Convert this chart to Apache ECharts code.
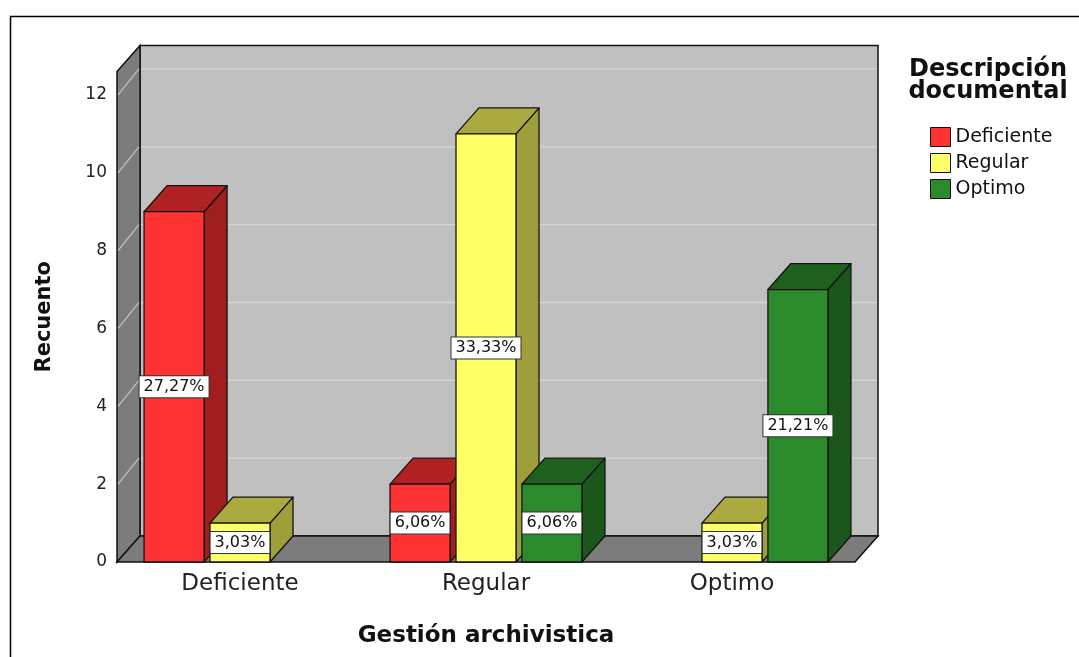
<!DOCTYPE html>
<html>
<head>
<meta charset="utf-8">
<script src="https://cdn.jsdelivr.net/npm/echarts@6/dist/echarts.min.js"></script>
<style>
  html, body { margin: 0; padding: 0; background: #ffffff; }
  #chart { width: 1079px; height: 657px; }
</style>
</head>
<body>
<div id="chart"></div>
<script>
// Categories on the x axis (Gestión archivistica)
const categories = ['Deficiente', 'Regular', 'Optimo'];
// Series (Descripción documental)
const seriesNames = ['Deficiente', 'Regular', 'Optimo'];
// Counts per category for each series
const deficienteCounts = [9, 2, 0];
const regularCounts = [1, 11, 1];
const optimoCounts = [0, 2, 7];
// Value axis ticks
const yTicks = [0, 2, 4, 6, 8, 10, 12];

const allCounts = [deficienteCounts, regularCounts, optimoCounts];
const total = allCounts.reduce((s, arr) => s + arr.reduce((a, b) => a + b, 0), 0);

// Face colours: front, top, side
const palette = [
  { front: '#ff3333', top: '#b02222', side: '#a01e1e' },
  { front: '#ffff66', top: '#aaaa40', side: '#9e9e3a' },
  { front: '#2b8a2b', top: '#1f601f', side: '#1b561b' }
];

// Depth offset of the 3D box
const DX = 23, DY = -26;
const FONT = 'DejaVu Sans';

function pctText(v) {
  return (v / total * 100).toFixed(2).replace('.', ',') + '%';
}

function barGeom(api, cat, val, sIdx) {
  const band = api.size([1, 0])[0];
  const w = band * 0.244, step = band * 0.268;
  const top = api.coord([cat, val]);
  const base = api.coord([cat, 0]);
  const xl = top[0] + (sIdx - 1) * step - w / 2;
  return { xl: xl, xr: xl + w, yt: top[1], yb: base[1] };
}

function renderWalls(params, api) {
  const cs = params.coordSys;
  const x0 = cs.x, x1 = cs.x + cs.width;
  const yTop = cs.y, yBase = cs.y + cs.height;
  const kids = [];
  // back wall
  kids.push({
    type: 'polygon',
    shape: { points: [[x0 + DX, yTop + DY], [x1 + DX, yTop + DY], [x1 + DX, yBase + DY], [x0 + DX, yBase + DY]] },
    style: { fill: '#c0c0c0', stroke: '#111', lineWidth: 1.5 }
  });
  // side wall
  kids.push({
    type: 'polygon',
    shape: { points: [[x0, yTop], [x0 + DX, yTop + DY], [x0 + DX, yBase + DY], [x0, yBase]] },
    style: { fill: '#7c7c7c', stroke: '#111', lineWidth: 1.5 }
  });
  // grid lines on the back and side walls
  yTicks.forEach(function (v) {
    if (v === 0) return;
    const y = api.coord([0, v])[1];
    kids.push({
      type: 'line',
      shape: { x1: x0 + DX + 1, y1: y + DY, x2: x1 + DX - 1, y2: y + DY },
      style: { stroke: '#d6d6d6', lineWidth: 1.3 }
    });
    kids.push({
      type: 'line',
      shape: { x1: x0 + 1, y1: y, x2: x0 + DX - 1, y2: y + DY },
      style: { stroke: '#c4c4c4', lineWidth: 1.2 }
    });
  });
  // floor
  kids.push({
    type: 'polygon',
    shape: { points: [[x0, yBase], [x0 + DX, yBase + DY], [x1 + DX, yBase + DY], [x1, yBase]] },
    style: { fill: '#7c7c7c', stroke: '#111', lineWidth: 1.5 }
  });
  return { type: 'group', children: kids };
}

function makeBarRenderer(sIdx) {
  const col = palette[sIdx];
  return function (params, api) {
    const cat = api.value(0), val = api.value(1);
    if (!val) return null;
    const g = barGeom(api, cat, val, sIdx);
    const edge = { stroke: '#141414', lineWidth: 1.3, lineJoin: 'round' };
    return {
      type: 'group',
      children: [
        {
          type: 'polygon',
          shape: { points: [[g.xr, g.yt], [g.xr + DX, g.yt + DY], [g.xr + DX, g.yb + DY], [g.xr, g.yb]] },
          style: Object.assign({ fill: col.side }, edge)
        },
        {
          type: 'polygon',
          shape: { points: [[g.xl, g.yt], [g.xl + DX, g.yt + DY], [g.xr + DX, g.yt + DY], [g.xr, g.yt]] },
          style: Object.assign({ fill: col.top }, edge)
        },
        {
          type: 'rect',
          shape: { x: g.xl, y: g.yt, width: g.xr - g.xl, height: g.yb - g.yt },
          style: Object.assign({ fill: col.front }, edge)
        }
      ]
    };
  };
}

function renderLabel(params, api) {
  const cat = api.value(0), val = api.value(1), sIdx = api.value(2);
  if (!val) return null;
  const g = barGeom(api, cat, val, sIdx);
  return {
    type: 'text',
    x: (g.xl + g.xr) / 2,
    y: (g.yt + g.yb) / 2,
    style: {
      text: pctText(val),
      fill: '#111',
      fontSize: 16,
      fontFamily: FONT,
      align: 'center',
      verticalAlign: 'middle',
      backgroundColor: '#ffffff',
      borderColor: '#333',
      borderWidth: 1,
      padding: [3, 4, 2, 4]
    }
  };
}

const barSeries = seriesNames.map(function (name, sIdx) {
  return {
    name: name,
    type: 'custom',
    z: 2,
    renderItem: makeBarRenderer(sIdx),
    itemStyle: { color: palette[sIdx].front },
    encode: { x: 0, y: 1 },
    data: allCounts[sIdx].map(function (v, i) { return [i, v]; })
  };
});

const labelData = [];
allCounts.forEach(function (arr, sIdx) {
  arr.forEach(function (v, i) { labelData.push([i, v, sIdx]); });
});

const chart = echarts.init(document.getElementById('chart'), null, { renderer: 'canvas' });
chart.setOption({
  animation: false,
  backgroundColor: '#ffffff',
  textStyle: { fontFamily: FONT },
  grid: { left: 117, right: 224, top: 71.6, bottom: 95, containLabel: false },
  xAxis: {
    type: 'category',
    data: categories,
    boundaryGap: true,
    axisLine: { show: false },
    axisTick: { show: false },
    axisLabel: { fontSize: 23, color: '#222', margin: 11, fontFamily: FONT },
    name: 'Gestión archivistica',
    nameLocation: 'middle',
    nameGap: 63,
    nameTextStyle: { fontSize: 23, fontWeight: 'bold', color: '#111', fontFamily: FONT }
  },
  yAxis: {
    type: 'value',
    min: 0,
    max: 12.6,
    interval: 2,
    axisLine: { show: false },
    axisTick: { show: false },
    splitLine: { show: false },
    axisLabel: { fontSize: 17, color: '#222', margin: 10, showMaxLabel: false, fontFamily: FONT },
    name: 'Recuento',
    nameLocation: 'middle',
    nameGap: 62,
    nameTextStyle: { fontSize: 21, fontWeight: 'bold', color: '#111', fontFamily: FONT }
  },
  legend: {
    data: seriesNames,
    orient: 'vertical',
    left: 925,
    top: 122,
    itemWidth: 20,
    itemHeight: 19,
    itemGap: 6,
    icon: 'rect',
    itemStyle: { borderColor: '#111', borderWidth: 1 },
    textStyle: { fontSize: 19, lineHeight: 19, color: '#111', fontFamily: FONT }
  },
  graphic: [
    {
      type: 'rect',
      shape: { x: 10.5, y: 16.5, width: 1200, height: 800 },
      style: { fill: 'none', stroke: '#000', lineWidth: 1.5 },
      silent: true
    },
    {
      type: 'text',
      x: 988,
      y: 59,
      style: {
        text: 'Descripción\ndocumental',
        fontSize: 24,
        fontWeight: 'bold',
        lineHeight: 22,
        fill: '#111',
        align: 'center',
        verticalAlign: 'top',
        fontFamily: FONT
      }
    }
  ],
  series: [
    {
      type: 'custom',
      z: 1,
      silent: true,
      renderItem: renderWalls,
      data: [[0, 0]]
    }
  ].concat(barSeries).concat([
    {
      type: 'custom',
      z: 3,
      silent: true,
      renderItem: renderLabel,
      data: labelData
    }
  ])
});
</script>
</body>
</html>
